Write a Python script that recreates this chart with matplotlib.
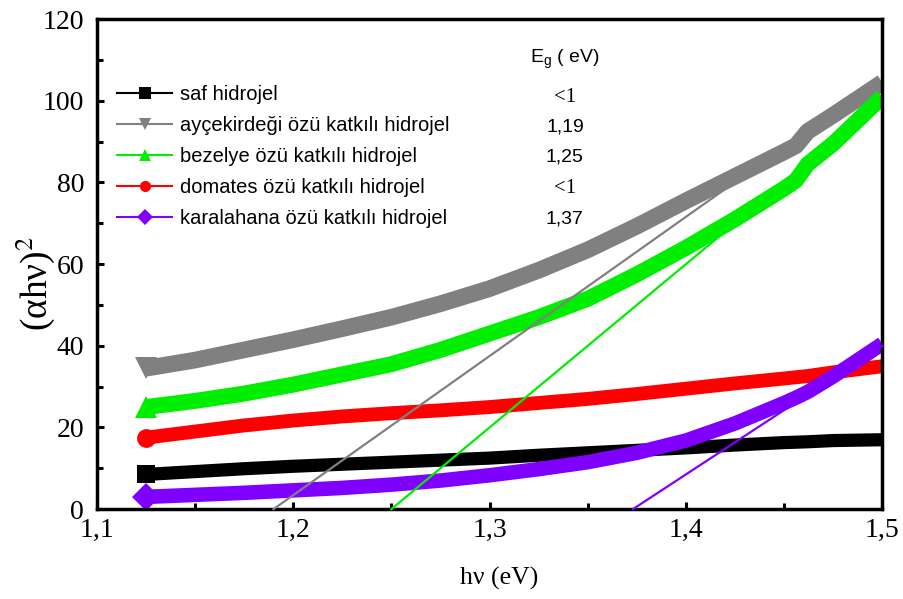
import numpy as np
import matplotlib.pyplot as plt
from matplotlib.ticker import MultipleLocator, FuncFormatter
from matplotlib.lines import Line2D

plt.rcParams['mathtext.fontset'] = 'stix'

# photon energy (eV)
hv = [1.125, 1.15, 1.175, 1.2, 1.225, 1.25, 1.275, 1.3, 1.325, 1.35,
      1.375, 1.4, 1.425, 1.45, 1.456, 1.462, 1.475, 1.5]

# (alpha h nu)^2 for each hydrogel
saf = [8.5, 9.2, 9.9, 10.5, 11.0, 11.5, 12.0, 12.5, 13.2, 13.8,
       14.4, 15.0, 15.7, 16.3, 16.4, 16.5, 16.8, 17.0]
aycekirdegi = [34.5, 36.5, 39.0, 41.5, 44.2, 47.0, 50.3, 54.0, 58.5, 63.5,
               69.3, 75.5, 81.5, 87.5, 89.0, 92.5, 96.5, 104.5]
bezelye = [25.0, 26.5, 28.3, 30.5, 33.0, 35.5, 39.0, 43.0, 47.0, 51.5,
           57.5, 64.0, 71.0, 78.5, 80.5, 84.5, 89.5, 101.0]
domates = [17.5, 19.0, 20.5, 21.7, 22.7, 23.5, 24.2, 25.0, 26.0, 27.0,
           28.2, 29.5, 30.8, 32.0, 32.3, 32.6, 33.5, 35.0]
karalahana = [3.0, 3.5, 4.0, 4.6, 5.2, 6.0, 7.0, 8.3, 9.8, 11.5,
              13.8, 16.8, 21.0, 26.0, 27.3, 28.7, 32.5, 40.5]

# linear fits extrapolated to the energy axis: (x start, x end), (y start, y end)
fit_ayc = ([1.19, 1.42], [0.0, 78.4])
fit_bez = ([1.25, 1.42], [0.0, 68.0])
fit_kar = ([1.373, 1.5], [0.0, 40.0])

labels = ['saf hidrojel', 'ayçekirdeği özü katkılı hidrojel',
          'bezelye özü katkılı hidrojel', 'domates özü katkılı hidrojel',
          'karalahana özü katkılı hidrojel']
eg_text = ['<1', '1,19', '1,25', '<1', '1,37']

colors = ['#000000', '#808080', '#00ee00', '#ff0000', '#7f00ff']
markers = ['s', 'v', '^', 'o', 'D']
widths = [9.5, 12, 11.5, 10, 10.5]

serif = 'Liberation Serif'
sans = 'Liberation Sans'

fig = plt.figure(figsize=(9.04, 5.99), dpi=100)
ax = fig.add_axes([0.107, 0.150, 0.869, 0.818])

series = [saf, aycekirdegi, bezelye, domates, karalahana]
for ys, c, m, w in zip(series, colors, markers, widths):
    ax.plot(hv, ys, color=c, lw=w, solid_capstyle='butt', solid_joinstyle='round',
            marker=m, markevery=[0], markersize=w * 1.35, markeredgewidth=0, zorder=2)

ax.plot(fit_ayc[0], fit_ayc[1], color=colors[1], lw=1.6, zorder=3, clip_on=False)
ax.plot(fit_bez[0], fit_bez[1], color=colors[2], lw=1.6, zorder=3, clip_on=False)
ax.plot(fit_kar[0], fit_kar[1], color=colors[4], lw=1.6, zorder=3, clip_on=False)

ax.set_xlim(1.1, 1.5)
ax.set_ylim(0, 120)
ax.xaxis.set_major_locator(MultipleLocator(0.1))
ax.xaxis.set_minor_locator(MultipleLocator(0.05))
ax.yaxis.set_major_locator(MultipleLocator(20))
ax.yaxis.set_minor_locator(MultipleLocator(10))
ax.xaxis.set_major_formatter(FuncFormatter(lambda v, p: f'{v:.1f}'.replace('.', ',')))
ax.yaxis.set_major_formatter(FuncFormatter(lambda v, p: f'{v:.0f}'))

ax.tick_params(which='both', direction='in', top=False, right=False, width=2.2)
ax.tick_params(which='major', length=5, labelsize=20)
ax.tick_params(which='minor', length=4)
ax.tick_params(axis='x', which='major', pad=6)
ax.tick_params(axis='y', which='major', pad=9)
for lab in ax.get_xticklabels() + ax.get_yticklabels():
    lab.set_fontfamily(serif)
for sp in ax.spines.values():
    sp.set_linewidth(2.5)

ax.set_xlabel('hν (eV)', fontsize=18.5, fontfamily=serif)
ax.xaxis.set_label_coords(0.512, -0.118)
ax.set_ylabel('(αhν)$^2$', fontsize=27, fontfamily=serif)
ax.yaxis.set_label_coords(-0.05, 0.46)

handles = [Line2D([], [], color=c, marker=m, markersize=8, lw=1.5, markeredgewidth=0)
           for c, m in zip(colors, markers)]
leg = ax.legend(handles, labels, loc='upper left', bbox_to_anchor=(0.008, 0.895),
                frameon=False, handlelength=2.75, handletextpad=0.35,
                labelspacing=0.6, prop={'family': sans, 'size': 14.5},
                borderaxespad=0.3)

rows_y = [0.841, 0.780, 0.719, 0.654, 0.593]
for y, t in zip(rows_y, eg_text):
    if t.startswith('<'):
        ax.text(0.596, y, t, transform=ax.transAxes, ha='center', va='center',
                fontsize=15, fontfamily=serif)
    else:
        ax.text(0.596, y, t, transform=ax.transAxes, ha='center', va='center',
                fontsize=14, fontfamily=sans)
ax.text(0.596, 0.917, r'$\mathregular{E_g}$ ( eV)', transform=ax.transAxes,
        ha='center', va='center', fontsize=14, fontfamily=sans)

fig.savefig('out.png', dpi=100)
